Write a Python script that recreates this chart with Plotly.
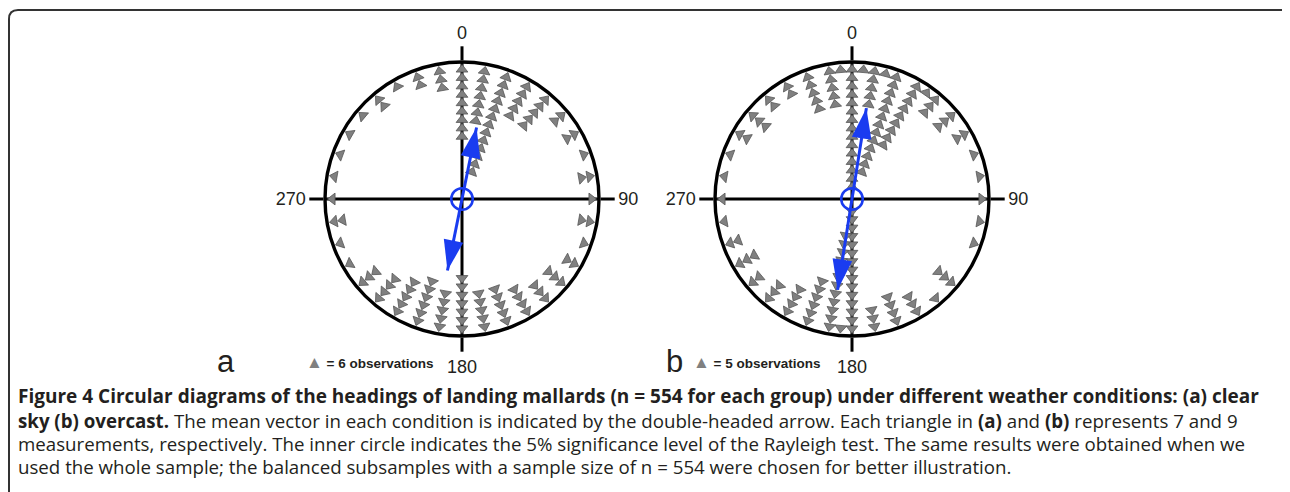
import plotly.graph_objects as go

# ---------------- data ----------------
# Panel a (clear sky): bin direction (deg) and number of triangles stacked in that bin
angles_a = [270, 280, 290, 300, 310, 320, 330, 340, 350,
            0, 10, 20, 30, 40, 50, 60, 70, 80, 90,
            100, 110, 120, 130, 140, 150, 160, 170, 180, 190, 200, 210, 220, 230, 240, 250, 260]
counts_a = [1, 1, 1, 1, 1, 2, 1, 2, 3,
            9, 7, 13, 5, 5, 2, 2, 1, 2, 1,
            2, 1, 2, 3, 3, 4, 5, 5, 7, 5, 6, 5, 4, 3, 1, 1, 2]
# Panel b (overcast)
angles_b = [270, 280, 290, 300, 310, 320, 330, 340, 350, 355,
            0, 5, 10, 15, 20, 30, 35, 40, 50, 60, 70, 80, 90,
            100, 110, 130, 140, 150, 160, 170,
            180, 185, 190, 200, 210, 220, 230, 240, 250, 260]
counts_b = [1, 1, 1, 2, 3, 2, 2, 5, 5, 1,
            15, 1, 5, 1, 13, 9, 1, 3, 3, 2, 1, 1, 1,
            1, 1, 3, 1, 3, 4, 3,
            15, 1, 12, 6, 4, 3, 2, 3, 2, 1]
# mean vectors (axial, double headed): direction in degrees, length (radial units)
mean_dir = {"a": 11.5, "b": 9.0}
mean_len = {"a": 73, "b": 92}
rayleigh_r = {"a": 10.5, "b": 10.5}
obs_per_triangle = {"a": 6, "b": 5}
compass_vals = [0, 90, 180, 270]
compass_text = ["0", "90", "180", "270"]

# ---------------- style ----------------
W, H = 1290, 492
OFF = 8            # page body margin of the browser
R = 137            # radial axis max (circle)
OUTER = 129.5      # first triangle position
STEP = 8.4         # stacking step
TRI_FILL = "#808080"
TRI_LINE = "#555555"
BLUE = "#1a3cf0"
TXT = "#231f20"

fig = go.Figure()


def add_panel(angles, counts, key, subplot):
    rr, tt = [], []
    for a, c in zip(angles, counts):
        for k in range(c):
            rr.append(OUTER - k * STEP)
            tt.append(a)
    fig.add_trace(go.Scatterpolar(
        r=rr, theta=tt, mode="markers", subplot=subplot, showlegend=False,
        marker=dict(symbol="triangle-up", size=10.2, angle=tt, color=TRI_FILL,
                    line=dict(color=TRI_LINE, width=0.8)),
        hoverinfo="skip"))
    d, L = mean_dir[key], mean_len[key]
    fig.add_trace(go.Scatterpolar(
        r=[L, 0, L], theta=[d + 180, 0, d], mode="lines", subplot=subplot,
        showlegend=False, line=dict(color=BLUE, width=3), hoverinfo="skip"))
    fig.add_trace(go.Scatterpolar(
        r=[L, L], theta=[d, d + 180], mode="markers", subplot=subplot,
        showlegend=False, hoverinfo="skip",
        marker=dict(symbol="arrow", size=32, angle=[d, d + 180], color=BLUE,
                    line=dict(width=0))))
    fig.add_trace(go.Scatterpolar(
        r=[0], theta=[0], mode="markers", subplot=subplot, showlegend=False,
        hoverinfo="skip",
        marker=dict(symbol="circle-open", size=2 * rayleigh_r[key] + 0.5, color=BLUE,
                    line=dict(width=2.6, color=BLUE))))


add_panel(angles_a, counts_a, "a", "polar")
add_panel(angles_b, counts_b, "b", "polar2")


def px(x):
    return (x - OFF) / W


def py(y):
    return 1 - (y - OFF) / H


def polar_layout(cx, cy):
    return dict(
        domain=dict(x=[px(cx - R), px(cx + R)],
                    y=[py(cy + R), py(cy - R)]),
        bgcolor="rgba(0,0,0,0)",
        radialaxis=dict(range=[0, R], visible=False),
        angularaxis=dict(rotation=90, direction="clockwise", layer="below traces",
                         tickmode="array", tickvals=compass_vals, ticktext=compass_text,
                         showline=True, linecolor="black", linewidth=3.4,
                         showgrid=True, gridcolor="black", gridwidth=2.6,
                         ticks="outside", ticklen=14, tickwidth=2.6, tickcolor="black",
                         tickfont=dict(family="Liberation Sans, Arial", size=18, color=TXT)),
    )


frame = (f"M {px(9)},{py(500)} L {px(9)},{py(19)} Q {px(9)},{py(10)} {px(18)},{py(10)} "
         f"L {px(1282)},{py(10)} Q {px(1287)},{py(10)} {px(1288)},{py(13)}")

annotations = []
for lab, x_lab, x_leg, key in [("a", 226, 304, "a"), ("b", 674, 691, "b")]:
    annotations.append(dict(xref="paper", yref="paper", x=px(x_lab), y=py(361),
                            text=lab, showarrow=False, xanchor="center", yanchor="middle",
                            font=dict(family="Liberation Sans, Arial", size=31, color=TXT)))
    annotations.append(dict(xref="paper", yref="paper", x=px(x_leg), y=py(362),
                            text=f'<span style="color:{TRI_FILL};font-size:17px">▲</span><b> = {obs_per_triangle[key]} observations</b>',
                            showarrow=False, xanchor="left", yanchor="middle",
                            font=dict(family="Liberation Sans, Arial", size=13.5, color=TXT)))

caption_title = ("<b>Figure 4 Circular diagrams of the headings of landing mallards (n = 554 for each group) "
                 "under different weather conditions: (a) clear</b>")
caption_body = [
    "<b>sky (b) overcast.</b> The mean vector in each condition is indicated by the double-headed arrow. Each triangle in <b>(a)</b> and <b>(b)</b> represents 7 and 9",
    "measurements, respectively. The inner circle indicates the 5% significance level of the Rayleigh test. The same results were obtained when we",
    "used the whole sample; the balanced subsamples with a sample size of n = 554 were chosen for better illustration.",
]
TITLE_SIZE = 19.0
BODY_SIZE = 18.7
LINE_GAP = 23.1    # px between caption baselines

annotations.append(dict(xref="paper", yref="paper", x=px(16), y=py(395.5), text=caption_title,
                        showarrow=False, xanchor="left", yanchor="middle", align="left",
                        font=dict(family="Open Sans", size=TITLE_SIZE, color=TXT)))
body_text = "<br>".join(f'<span style="font-size:{BODY_SIZE}px">{t}</span>' for t in caption_body)
annotations.append(dict(xref="paper", yref="paper", x=px(16), y=py(443), text=body_text,
                        showarrow=False, xanchor="left", yanchor="middle", align="left",
                        font=dict(family="Open Sans", size=LINE_GAP / 1.3, color=TXT)))

fig.update_layout(
    width=W, height=H, margin=dict(l=0, r=0, t=0, b=0),
    paper_bgcolor="white", plot_bgcolor="white",
    polar=polar_layout(462, 199),
    polar2=polar_layout(852, 199),
    shapes=[dict(type="path", xref="paper", yref="paper", path=frame,
                 line=dict(color="#333333", width=2))],
    annotations=annotations,
    showlegend=False,
)

fig.write_html("out.html")
